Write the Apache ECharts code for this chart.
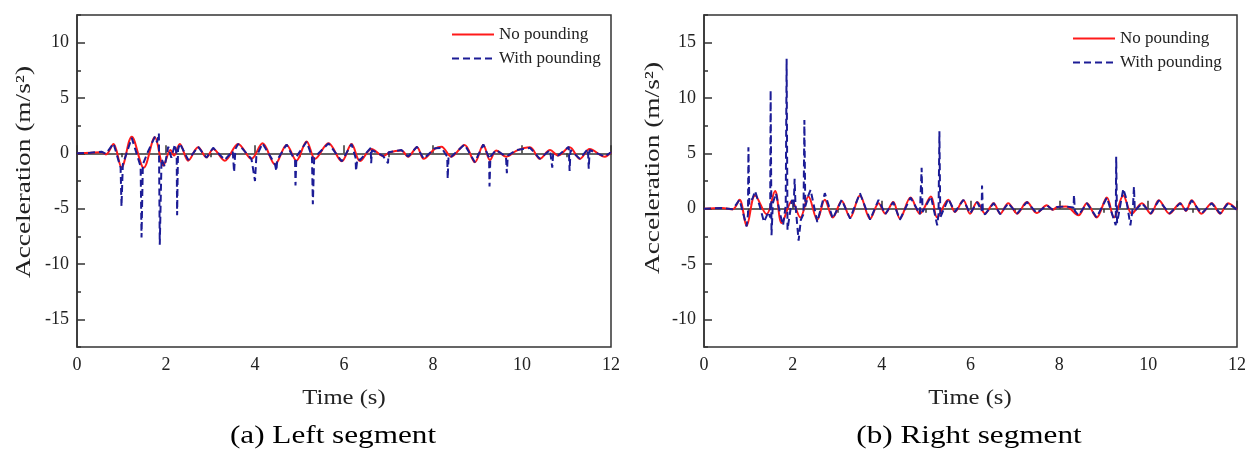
<!DOCTYPE html>
<html>
<head>
<meta charset="utf-8">
<script src="https://cdn.jsdelivr.net/npm/echarts@6/dist/echarts.min.js"></script>
<style>
html,body{margin:0;padding:0;background:#fff;}
#c{width:1254px;height:450px;}
</style>
</head>
<body>
<div id="c"></div>
<script>
// ---- Data (time in s, acceleration in m/s^2) ----
const seriesNames = ['No pounding', 'With pounding'];
const panelTitles = ['(a) Left segment', '(b) Right segment'];
const xName = 'Time (s)';
const yName = 'Acceleration (m/s²)';
const xTickLabels = [0, 2, 4, 6, 8, 10, 12];
const xMinorTicks = [1, 3, 5, 7, 9, 11];
const leftYTicks = [-15, -10, -5, 0, 5, 10];
const leftYMinor = [-17.5, -12.5, -7.5, -2.5, 2.5, 7.5, 12.5];
const rightYTicks = [-10, -5, 0, 5, 10, 15];
const rightYMinor = [-12.5, -7.5, -2.5, 2.5, 7.5, 12.5, 17.5];

const leftNoPounding = [[0,0],[0.3,0.05],[0.55,0.1],[0.65,-0.1],[0.82,0.85],[1.0,-1.26],[1.23,1.5],[1.5,-1.3],[1.75,1.45],[1.94,-1.1],[2.1,0.3],[2.18,-0.2],[2.31,0.85],[2.5,-0.66],[2.72,0.54],[2.91,-0.36],[3.06,0.4],[3.32,-0.66],[3.62,0.85],[3.92,-0.5],[4.17,0.9],[4.45,-1.0],[4.71,0.76],[4.93,-0.66],[5.16,1.08],[5.35,-0.5],[5.65,0.9],[5.95,-0.72],[6.17,0.85],[6.36,-0.7],[6.62,0.4],[6.88,-0.25],[7.03,0.1],[7.29,0.25],[7.44,-0.3],[7.64,0.55],[7.79,-0.5],[8.04,0.4],[8.19,0.6],[8.41,-0.3],[8.71,0.76],[8.94,-0.8],[9.13,0.76],[9.28,-0.6],[9.42,0.25],[9.65,-0.3],[9.88,0.25],[10.18,0.55],[10.4,-0.5],[10.63,0.3],[10.81,-0.2],[11.07,0.55],[11.3,-0.5],[11.52,0.4],[11.86,-0.3],[12,0.1]];

const leftWithPounding = [[0,0],[0.3,0.05],[0.55,0.15],[0.65,-0.05],[0.82,0.9],[0.98,-1.3],[1.0,-4.8],[1.03,-1.0],[1.23,1.4],[1.43,-1.2],[1.45,-7.6],[1.48,-1.0],[1.6,0.2],[1.75,1.5],[1.8,1.0],[1.84,1.8],[1.86,-8.25],[1.9,-0.5],[1.97,-1.2],[2.05,0.6],[2.12,-0.4],[2.2,0.8],[2.24,-0.1],[2.25,-5.6],[2.27,0.3],[2.31,0.9],[2.5,-0.6],[2.72,0.6],[2.91,-0.4],[3.06,0.5],[3.32,-0.6],[3.5,0.2],[3.53,-1.7],[3.56,0.4],[3.62,0.85],[3.92,-0.5],[4.0,-2.5],[4.03,-0.3],[4.17,0.9],[4.45,-1.0],[4.48,-1.6],[4.5,-0.6],[4.71,0.8],[4.9,-0.66],[4.91,-2.9],[4.93,-0.3],[5.16,1.05],[5.28,-0.3],[5.3,-4.6],[5.33,-0.4],[5.65,0.9],[5.95,-0.72],[6.17,0.85],[6.26,-0.4],[6.27,-1.6],[6.3,-0.5],[6.36,-0.6],[6.6,0.5],[6.61,-0.9],[6.63,0.3],[6.88,-0.25],[6.99,-0.9],[7.0,0.1],[7.29,0.3],[7.44,-0.3],[7.64,0.6],[7.79,-0.5],[8.04,0.45],[8.19,0.5],[8.32,-0.3],[8.33,-2.3],[8.35,-0.2],[8.41,-0.3],[8.71,0.8],[8.94,-0.8],[9.13,0.8],[9.26,-0.4],[9.27,-3.0],[9.29,-0.3],[9.42,0.3],[9.64,-0.3],[9.66,-1.8],[9.68,-0.2],[9.88,0.3],[10.18,0.5],[10.4,-0.5],[10.63,0.3],[10.68,-1.3],[10.7,-0.1],[10.81,-0.2],[11.05,0.6],[11.07,-1.6],[11.09,0.3],[11.3,-0.5],[11.48,0.4],[11.5,-1.4],[11.52,0.3],[11.86,-0.3],[12,0.1]];

const rightNoPounding = [[0,0],[0.4,0.05],[0.65,-0.05],[0.8,0.8],[0.96,-1.55],[1.15,1.2],[1.41,-0.5],[1.6,1.6],[1.75,-1.3],[1.98,0.7],[2.17,-0.8],[2.35,1.1],[2.55,-1.0],[2.72,0.8],[2.9,-0.8],[3.1,0.7],[3.29,-0.8],[3.51,1.2],[3.74,-0.9],[3.93,0.5],[4.08,-0.45],[4.26,0.6],[4.41,-0.9],[4.65,1.0],[4.86,-0.45],[5.11,1.1],[5.25,-0.8],[5.5,0.8],[5.65,-0.3],[5.84,0.75],[5.99,-0.45],[6.15,0.6],[6.33,-0.45],[6.52,0.5],[6.67,-0.45],[6.85,0.5],[7.05,-0.45],[7.27,0.6],[7.49,-0.4],[7.72,0.3],[7.85,-0.1],[7.95,0.15],[8.15,0.2],[8.43,-0.6],[8.62,0.5],[8.84,-0.8],[9.07,1.0],[9.23,-0.8],[9.44,1.2],[9.63,-0.45],[9.86,0.5],[10.06,-0.45],[10.24,0.75],[10.48,-0.45],[10.72,0.5],[10.85,-0.2],[10.98,0.75],[11.2,-0.45],[11.43,0.5],[11.62,-0.45],[11.8,0.5],[12,-0.1]];

const rightWithPounding = [[0,0],[0.4,0.05],[0.65,-0.05],[0.8,0.8],[0.96,-1.6],[0.99,-0.5],[1.0,5.55],[1.02,0.4],[1.1,1.0],[1.15,1.6],[1.25,0.3],[1.35,-1.2],[1.45,-0.3],[1.49,-0.8],[1.5,10.7],[1.52,-2.4],[1.55,0.5],[1.62,1.4],[1.72,-0.6],[1.78,-1.5],[1.84,0.3],[1.86,13.55],[1.88,-1.9],[1.92,-0.8],[1.98,0.8],[2.02,0.2],[2.04,2.7],[2.06,0.3],[2.13,-2.9],[2.18,-1.0],[2.24,-0.5],[2.26,8.0],[2.28,0.2],[2.35,1.2],[2.4,1.7],[2.55,-1.2],[2.72,1.4],[2.9,-0.9],[3.1,0.8],[3.29,-0.9],[3.51,1.4],[3.74,-1.0],[3.93,0.8],[4.08,-0.5],[4.26,0.6],[4.41,-1.0],[4.65,1.0],[4.86,-0.5],[4.89,-0.4],[4.9,3.7],[4.92,-0.3],[5.11,1.1],[5.25,-1.5],[5.28,-0.5],[5.3,7.0],[5.32,-0.8],[5.5,0.9],[5.65,-0.3],[5.84,0.8],[5.99,-0.45],[6.15,0.6],[6.25,-0.2],[6.26,2.1],[6.28,-0.45],[6.33,-0.5],[6.52,0.5],[6.67,-0.5],[6.85,0.5],[7.05,-0.45],[7.27,0.6],[7.49,-0.4],[7.72,0.3],[7.85,-0.1],[7.95,0.15],[8.15,0.2],[8.32,0.1],[8.33,1.25],[8.35,-0.2],[8.43,-0.6],[8.62,0.5],[8.84,-0.8],[9.07,1.0],[9.23,-1.0],[9.27,-1.5],[9.28,4.7],[9.3,-1.3],[9.44,1.8],[9.5,1.0],[9.6,-1.5],[9.66,0.3],[9.68,2.0],[9.7,-0.2],[9.86,0.5],[10.06,-0.45],[10.24,0.75],[10.48,-0.45],[10.72,0.5],[10.85,-0.2],[10.98,0.75],[11.2,-0.45],[11.43,0.5],[11.62,-0.45],[11.8,0.5],[12,-0.1]];

// ---- Styling ----
const FONT = '"Liberation Serif", "Times New Roman", serif';
const AX = '#333';
const TXT = '#222';
const RED = '#ff1a1a';
const BLUE = '#1c1c96';

const grids = [
  {left: 77, top: 15, width: 534, height: 332},
  {left: 704, top: 15, width: 533, height: 332}
];

function mainX(gi) {
  return {
    type: 'value', gridIndex: gi, min: 0, max: 12,
    axisLine: {lineStyle: {color: AX, width: 1.5}},
    axisTick: {inside: true, length: 8, customValues: xTickLabels, lineStyle: {color: AX, width: 1.5}},
    axisLabel: {customValues: xTickLabels, fontFamily: FONT, fontSize: 18, color: TXT, margin: 9},
    splitLine: {show: false}
  };
}
function minorX(gi) {
  return {
    type: 'value', gridIndex: gi, min: 0, max: 12,
    axisLine: {show: false},
    axisTick: {inside: true, length: 4, customValues: xMinorTicks, lineStyle: {color: AX, width: 1.5}},
    axisLabel: {show: false}, splitLine: {show: false}
  };
}
function mainY(gi, mn, mx, ticks) {
  return {
    type: 'value', gridIndex: gi, min: mn, max: mx,
    axisLine: {lineStyle: {color: AX, width: 1.5}},
    axisTick: {inside: true, length: 8, customValues: ticks, lineStyle: {color: AX, width: 1.5}},
    axisLabel: {customValues: ticks, fontFamily: FONT, fontSize: 18, color: TXT, margin: 8},
    splitLine: {show: false}
  };
}
function minorY(gi, mn, mx, ticks) {
  return {
    type: 'value', gridIndex: gi, min: mn, max: mx, position: 'left',
    axisLine: {show: false},
    axisTick: {inside: true, length: 4, customValues: ticks, lineStyle: {color: AX, width: 1.5}},
    axisLabel: {show: false}, splitLine: {show: false}
  };
}

function redSeries(xi, yi, data) {
  return {
    name: seriesNames[0], type: 'line', xAxisIndex: xi, yAxisIndex: yi,
    data: data, showSymbol: false, symbol: 'none', smooth: 0.35, z: 3,
    lineStyle: {color: RED, width: 2}, itemStyle: {color: RED}
  };
}
function blueSeries(xi, yi, data) {
  return {
    name: seriesNames[1], type: 'line', xAxisIndex: xi, yAxisIndex: yi,
    data: data, showSymbol: false, symbol: 'none', smooth: false, z: 4,
    lineStyle: {color: BLUE, width: 2, type: [7, 4]}, itemStyle: {color: BLUE}
  };
}

function legendAt(left, top) {
  return {data: seriesNames, orient: 'vertical', left: left, top: top,
    itemWidth: 42, itemHeight: 14, itemGap: 7,
    itemStyle: {opacity: 0},
    textStyle: {fontFamily: FONT, fontSize: 17, color: TXT}};
}

function vText(x, y, text) {
  return {type: 'text', x: x, y: y, rotation: Math.PI / 2, scaleX: 1.3,
    style: {text: text, font: '21px ' + FONT, fill: TXT, align: 'center', verticalAlign: 'middle'}};
}
function hText(x, y, text, size, sx, color) {
  return {type: 'text', x: x, y: y, scaleX: sx,
    style: {text: text, font: size + 'px ' + FONT, fill: color, align: 'center', verticalAlign: 'middle'}};
}

const option = {
  animation: false,
  backgroundColor: '#fff',
  grid: grids.map(g => Object.assign({show: true, borderColor: AX, borderWidth: 1.5, backgroundColor: 'transparent'}, g)),
  xAxis: [mainX(0), minorX(0), mainX(1), minorX(1)],
  yAxis: [
    mainY(0, -17.5, 12.5, leftYTicks), minorY(0, -17.5, 12.5, leftYMinor),
    mainY(1, -12.5, 17.5, rightYTicks), minorY(1, -12.5, 17.5, rightYMinor)
  ],
  legend: [legendAt(446, 21), legendAt(1067, 25)],
  graphic: [
    vText(24, 172, yName),
    vText(653, 168, yName),
    hText(344, 398, xName, 22, 1.12, TXT),
    hText(970, 398, xName, 22, 1.12, TXT),
    hText(333, 436, panelTitles[0], 26, 1.2, '#000'),
    hText(969, 436, panelTitles[1], 26, 1.2, '#000')
  ],
  series: [
    redSeries(0, 0, leftNoPounding),
    blueSeries(0, 0, leftWithPounding),
    redSeries(2, 2, rightNoPounding),
    blueSeries(2, 2, rightWithPounding)
  ]
};

const chart = echarts.init(document.getElementById('c'), null, {renderer: 'canvas'});
chart.setOption(option);
</script>
</body>
</html>
